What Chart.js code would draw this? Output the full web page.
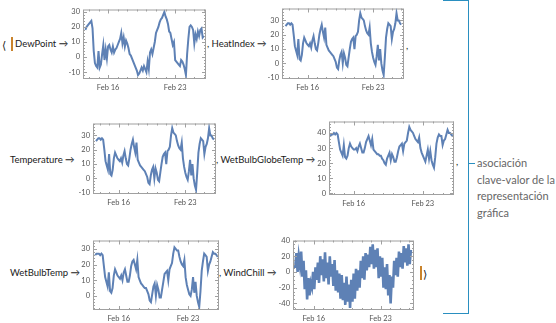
<!DOCTYPE html>
<html>
<head>
<meta charset="utf-8">
<style>
  body { margin: 0; width: 556px; height: 323px; background: #fff; position: relative; overflow: hidden; font-family: Lato, "DejaVu Sans", sans-serif; }
  canvas { position: absolute; }
  .t { position: absolute; white-space: nowrap; line-height: 1; transform: translateY(-50%); font-size: 9.5px; color: #1a1a1a; }
  .bar { position: absolute; width: 1.5px; height: 14px; background: #c9832c; }
  .br { position: absolute; background: #2a8fc0; }
  .desc { position: absolute; left: 477px; top: 155px; font-size: 11px; line-height: 16.7px; color: #666; }
</style>
</head>
<body>
<div class="t" style="left:2px;top:44px;font-size:11px;">&#x27E8;</div>
<div class="bar" style="left:11px;top:37px;"></div>
<div class="t" style="left:15px;top:44px;">DewPoint &#x2192;</div>
<div class="t" style="left:207px;top:44px;">, HeatIndex &#x2192;</div>
<div class="t" style="left:406px;top:46px;">,</div>
<div class="t" style="left:10px;top:160px;">Temperature &#x2192;</div>
<div class="t" style="left:216px;top:160px;">, WetBulbGlobeTemp &#x2192;</div>
<div class="t" style="left:456px;top:162px;">,</div>
<div class="t" style="left:10px;top:273px;">WetBulbTemp &#x2192;</div>
<div class="t" style="left:219px;top:273px;">, WindChill &#x2192;</div>
<div class="bar" style="left:420px;top:266px;"></div>
<div class="t" style="left:423px;top:273px;font-size:11px;">&#x27E9;</div>

<div class="br" style="left:468px;top:0;width:1.3px;height:314px;"></div>
<div class="br" style="left:443px;top:0;width:26px;height:1.3px;"></div>
<div class="br" style="left:443px;top:312.7px;width:26px;height:1.3px;"></div>
<div class="br" style="left:468px;top:163px;width:7px;height:1.3px;"></div>
<div class="desc">asociación<br>clave-valor de la<br>representación<br>gráfica</div>

<canvas id="c1"></canvas>
<canvas id="c2"></canvas>
<canvas id="c3"></canvas>
<canvas id="c4"></canvas>
<canvas id="c5"></canvas>
<canvas id="c6"></canvas>

<script src="https://cdn.jsdelivr.net/npm/chart.js@4.4.0/dist/chart.umd.min.js"></script>
<script>
// readings every 3 hours, day numbers in February
const startDay = 13.625;
const windStartDay = 14.05;
const stepDays = 0.125;

const dewPoint = [
  18, 20, 21, 22, 23, 24, 19, 4, -4, -6,
  -7, 4, -7, -5, 2, 8, -2, 5, -1, 7,
  8, 5, 3, 7, 3, 5, 6, 8, 10, 12,
  16, 9, 13, 7, 11, 9, 6, 2, 1, -1,
  -3, -5, -7, -9, -12, -11, -9, -7, -9, -6,
  -8, -10, -3, -8, 3, 5, 2, 6, 10, 16,
  18, 20, 23, 25, 26, 28, 30, 27, 25, 22,
  17, 16, 12, 8, 10, -2, -3, -4, -5, -6,
  -2, -3, -5, -8, -12, 2, 12, 20, 21, 20,
  18, 9, 15, 12, 17, 14, 18, 19, 13, 14
];
const heatIndex = [
  26, 27, 28, 28, 27, 28, 27, 20, 12, 9,
  6, 17, 3, 2, 6, 14, 18, 16, 14, 13,
  12, 14, 11, 16, 19, 14, 10, 9, 14, 20,
  24, 27, 22, 18, 25, 13, 11, 9, 8, 7,
  6, 5, 3, 1, -3, -4, 2, 6, 8, 0,
  7, 4, -1, -2, 4, 10, 15, 17, 18, 10,
  19, 20, 22, 30, 35, 32, 31, 30, 26, 23,
  21, 20, 25, 14, 8, 4, 1, -1, 5, 13,
  2, 10, 0, -5, -8, 4, 18, 24, 28, 27,
  26, 17, 22, 24, 28, 35, 30, 30, 28, 27
];
const temperature = [
  26, 27, 28, 28, 27, 28, 27, 20, 12, 9,
  6, 17, 3, 2, 6, 14, 18, 16, 14, 13,
  12, 14, 11, 16, 19, 14, 10, 9, 14, 20,
  24, 27, 22, 18, 25, 13, 11, 9, 8, 7,
  6, 5, 3, 1, -3, -4, 2, 6, 8, 0,
  7, 4, -1, -2, 4, 10, 15, 17, 18, 10,
  19, 20, 22, 30, 35, 32, 31, 30, 26, 23,
  21, 20, 25, 14, 8, 4, 1, -1, 5, 13,
  2, 10, 0, -5, -8, 4, 18, 24, 28, 27,
  26, 17, 22, 24, 28, 35, 30, 30, 28, 27
];
const wetBulbGlobeTemp = [
  38, 39, 39, 40, 39, 40, 39, 34, 29, 27,
  25, 32, 24, 23, 25, 30, 33, 31, 30, 29,
  29, 30, 28, 31, 33, 30, 27, 27, 30, 34,
  36, 38, 35, 32, 36, 29, 28, 27, 26, 26,
  25, 25, 23, 22, 20, 19, 23, 25, 27, 22,
  26, 24, 21, 21, 24, 28, 31, 32, 33, 28,
  33, 34, 35, 40, 44, 42, 41, 40, 38, 36,
  35, 34, 37, 30, 27, 25, 23, 21, 25, 29,
  23, 28, 22, 19, 17, 24, 33, 37, 39, 38,
  38, 32, 35, 36, 39, 42, 40, 40, 39, 38
];
const wetBulbTemp = [
  26, 27, 27, 27, 26, 27, 26, 19, 12, 9,
  6, 15, 3, 2, 5, 13, 17, 15, 13, 12,
  11, 13, 10, 15, 17, 13, 9, 9, 13, 19,
  22, 23, 20, 17, 23, 12, 10, 8, 7, 6,
  5, 5, 3, 1, -3, -4, 1, 6, 8, 0,
  7, 4, -1, -1, 4, 9, 14, 15, 16, 10,
  17, 19, 21, 27, 31, 30, 29, 29, 25, 22,
  20, 19, 23, 12, 7, 4, 1, 0, 4, 12,
  2, 9, 0, -4, -7, 3, 16, 22, 27, 26,
  25, 16, 20, 22, 25, 28, 27, 27, 26, 25
];
// wind chill swings hard between readings, so the line fills a band
const windChill = [
  5, 24, 0, 20, 8, 26, -6, 14, -22, 2,
  -35, -8, -30, -14, -20, 0, -22, 6, -10, 12,
  -14, 20, -4, 16, -12, 25, -8, 12, -16, 20,
  -6, 10, -18, 15, -24, 2, -26, -2, -34, -4,
  -36, -14, -42, -6, -38, -16, -46, -10, -38, -2,
  -34, 4, -24, 2, -20, 14, -8, 20, -10, 24,
  2, 22, 6, 32, 10, 35, 4, 28, 6, 30,
  -8, 20, -6, 18, -20, 6, -22, 10, -30, -4,
  -40, -6, -20, 14, -4, 18, -6, 26, 6, 24,
  4, 33, 12, 30, 8, 35, 10, 28
];

const dateTicks = [16, 23];
const dateLabels = ["Feb 16", "Feb 23"];
const ticksDew = [-10, 0, 10, 20, 30];
const ticksTemp = [-10, 0, 10, 20, 30];
const ticksGlobe = [0, 10, 20, 30, 40];
const ticksWetBulb = [0, 10, 20, 30];
const ticksWind = [-40, -20, 0, 20, 40];

const blue = 'rgb(94,129,181)';
const axisW = 24, axisH = 14, padT = 3, padR = 2;

// frame box: left, top, right, bottom
const panels = [
  { id: 'c1', box: [83, 5, 206, 79], values: dewPoint, start: startDay, y: [-14.6, 31.6], yTicks: ticksDew, minor: 2, x: [13.38, 26.22], lw: 2 },
  { id: 'c2', box: [282, 4, 404, 79], values: heatIndex, start: startDay, y: [-10.9, 38.3], yTicks: ticksTemp, minor: 2, x: [13.25, 26.3], lw: 2 },
  { id: 'c3', box: [93, 119, 216, 194], values: temperature, start: startDay, y: [-10.9, 38.3], yTicks: ticksTemp, minor: 2, x: [13.31, 26.22], lw: 2 },
  { id: 'c4', box: [329, 117, 454, 195], values: wetBulbGlobeTemp, start: startDay, y: [-1.05, 47.6], yTicks: ticksGlobe, minor: 2, x: [13.5, 26.15], lw: 2 },
  { id: 'c5', box: [93, 236, 219, 310], values: wetBulbTemp, start: startDay, y: [-9, 35.4], yTicks: ticksWetBulb, minor: 2, x: [13.4, 26.12], lw: 2 },
  { id: 'c6', box: [293, 236, 414, 310], values: windChill, start: windStartDay, y: [-48.5, 40], yTicks: ticksWind, minor: 5, x: [13.82, 26.5], lw: 2.6 }
];

// Mathematica-style frame: grey box with inward ticks on all four sides
const framePlugin = {
  id: 'frame',
  afterDatasetsDraw(chart, args, opts) {
    const { ctx, chartArea: a, scales: { x, y } } = chart;
    ctx.save();
    ctx.strokeStyle = '#a0a0a0';
    ctx.lineWidth = 1;
    ctx.strokeRect(a.left + 0.5, a.top + 0.5, a.right - a.left - 1, a.bottom - a.top - 1);
    ctx.beginPath();
    const vTick = (v, len) => {
      const px = Math.round(x.getPixelForValue(v)) + 0.5;
      ctx.moveTo(px, a.bottom); ctx.lineTo(px, a.bottom - len);
      ctx.moveTo(px, a.top); ctx.lineTo(px, a.top + len);
    };
    const hTick = (v, len) => {
      const py = Math.round(y.getPixelForValue(v)) + 0.5;
      ctx.moveTo(a.left, py); ctx.lineTo(a.left + len, py);
      ctx.moveTo(a.right, py); ctx.lineTo(a.right - len, py);
    };
    for (let d = Math.ceil(x.min); d <= x.max; d++) vTick(d, dateTicks.includes(d) ? 4 : 2);
    for (let v = Math.ceil(y.min / opts.minor) * opts.minor; v <= y.max; v += opts.minor) {
      hTick(v, opts.yTicks.includes(v) ? 4 : 2);
    }
    ctx.stroke();
    ctx.restore();
  }
};

panels.forEach(p => {
  const [l, t, r, b] = p.box;
  const canvas = document.getElementById(p.id);
  canvas.width = (r - l) + axisW + padR;
  canvas.height = (b - t) + padT + axisH;
  canvas.style.left = (l - axisW) + 'px';
  canvas.style.top = (t - padT) + 'px';

  new Chart(canvas, {
    type: 'line',
    data: {
      datasets: [{
        data: p.values.map((v, i) => ({ x: p.start + i * stepDays, y: v })),
        borderColor: blue,
        borderWidth: p.lw,
        pointRadius: 0,
        tension: 0,
        fill: false
      }]
    },
    options: {
      responsive: false,
      devicePixelRatio: 1,
      animation: false,
      events: [],
      layout: { padding: { top: padT, right: padR, left: 0, bottom: 0 } },
      plugins: {
        legend: { display: false },
        tooltip: { enabled: false },
        frame: { minor: p.minor, yTicks: p.yTicks }
      },
      scales: {
        x: {
          type: 'linear',
          min: p.x[0],
          max: p.x[1],
          afterBuildTicks: s => { s.ticks = dateTicks.map(v => ({ value: v })); },
          afterFit: s => { s.height = axisH; },
          grid: { display: false, drawTicks: false },
          border: { display: false },
          ticks: {
            autoSkip: false,
            maxRotation: 0,
            padding: 4,
            color: '#555',
            font: { family: 'Lato', size: 7.5 },
            callback: v => dateLabels[dateTicks.indexOf(v)]
          }
        },
        y: {
          type: 'linear',
          min: p.y[0],
          max: p.y[1],
          afterBuildTicks: s => { s.ticks = p.yTicks.map(v => ({ value: v })); },
          afterFit: s => { s.width = axisW; },
          grid: { display: false, drawTicks: false },
          border: { display: false },
          ticks: {
            padding: 3,
            color: '#555',
            font: { family: 'Lato', size: 7.5 }
          }
        }
      }
    },
    plugins: [framePlugin]
  });
});
</script>
</body>
</html>
